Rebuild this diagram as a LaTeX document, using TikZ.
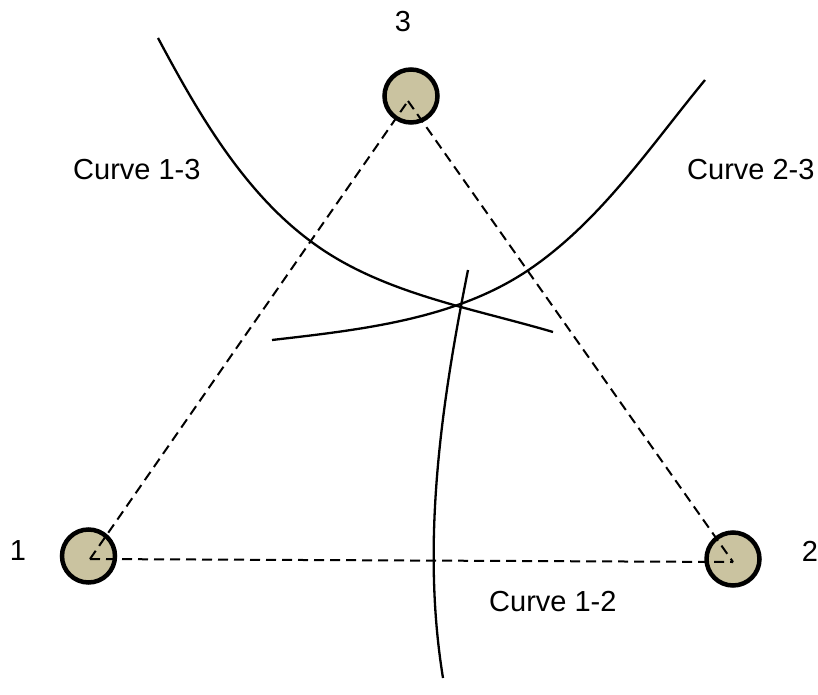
\documentclass[tikz,border=0pt]{standalone}
\usepackage{fontspec}
\setmainfont{Liberation Sans}
\definecolor{tan}{RGB}{202,195,160}
\tikzset{
  station/.style={circle, draw=black, line width=4.5pt, fill=tan, minimum size=53pt, inner sep=0pt},
  baseline/.style={line width=2pt, dash pattern=on 10pt off 6pt},
  hcurve/.style={line width=2.3pt},
  lbl/.style={font=\fontsize{29}{31}\selectfont, inner sep=0pt}
}
\begin{document}
\begin{tikzpicture}[x=1pt,y=-1pt]
\useasboundingbox (0,0) rectangle (818,695);
\node[station] (n1) at (88.5,556) {};
\node[station] (n2) at (733,559) {};
\node[station] (n3) at (411,96) {};
\coordinate (a1) at (90,559);
\coordinate (a2) at (733,562);
\coordinate (a3) at (408,101);
\draw[baseline] (a1) -- (a3);
\draw[baseline] (a3) -- (a2);
\draw[baseline] (a1) -- (a2);
% curve 1-3
\coordinate (c13s) at (158,38);
\coordinate (c13m) at (313,243);
\coordinate (c13e) at (553,332);
\draw[hcurve] (c13s) .. controls (198,113) and (244,193) .. (c13m)
  .. controls (381.5,293.3) and (471.5,308) .. (c13e);
% curve 2-3
\coordinate (c23s) at (272,340);
\coordinate (c23m) at (527,271);
\coordinate (c23e) at (705,80);
\draw[hcurve] (c23s) .. controls (359.4,329.9) and (453.8,319.8) .. (c23m)
  .. controls (599.4,222.7) and (649.7,147.1) .. (c23e);
% curve 1-2
\coordinate (c12s) at (468,270);
\coordinate (c12e) at (443,678);
\draw[hcurve] (c12s) .. controls (441.3,403.3) and (421,543.2) .. (c12e);
\node[lbl, anchor=west] (l13) at (73,170) {Curve 1-3};
\node[lbl, anchor=west] (l23) at (687,170) {Curve 2-3};
\node[lbl, anchor=west] (l12) at (489,602) {Curve 1-2};
\node[lbl] (t1) at (18,551) {1};
\node[lbl] (t2) at (810,551) {2};
\node[lbl] (t3) at (403,22) {3};
\end{tikzpicture}
\end{document}
